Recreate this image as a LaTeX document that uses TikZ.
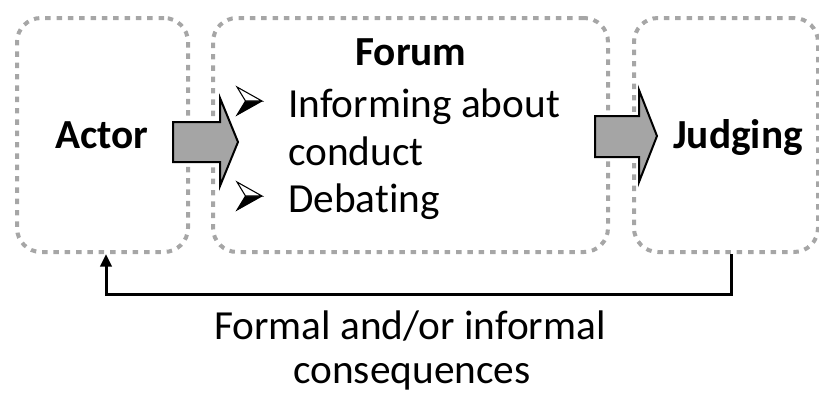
\documentclass[tikz,border=0pt]{standalone}
\usepackage{fontspec}
\setmainfont[Ligatures=NoCommon]{Carlito}
\usetikzlibrary{arrows.meta,calc}
\definecolor{dotgray}{HTML}{A6A6A6}
\definecolor{arrowgray}{HTML}{A5A5A5}
\begin{document}
\begin{tikzpicture}[x=0.75pt,y=-0.75pt,
  dotbox/.style={draw=dotgray, line width=3pt, dash pattern=on 4.1pt off 4.4pt, rounded corners=18pt, inner sep=0pt},
  blockarrow/.style={draw=black, line width=1.5pt, fill=arrowgray, line join=miter},
  lbl/.style={font=\fontsize{31}{37}\selectfont, inner sep=0pt, anchor=base},
  blbl/.style={inner sep=0pt, anchor=base, font=\fontsize{31}{37}\selectfont\bfseries},
  fb/.style={line width=2.25pt, -{Triangle[width=8.5pt,length=9.5pt]}},
  bul/.pic={
    \fill[black] (-4,0) -- (12.5,0) -- (-12.5,14) -- cycle;
    \draw[black, line width=0.8pt, fill=white, line join=miter] (-12.5,-14) -- (12.5,0) -- (-4,0) -- cycle;
    \draw[black, line width=0.8pt, line join=miter] (-4,0) -- (-12.5,14) -- (12.5,0);
  }]
\useasboundingbox (0,0) rectangle (819,397);
% boxes
\node[dotbox, minimum width=128.25pt, minimum height=175.5pt] (actor) at (102.5,135) {};
\node[dotbox, minimum width=296.25pt, minimum height=175.5pt] (forum) at (410.5,135) {};
\node[dotbox, minimum width=138pt, minimum height=175.5pt] (judging) at (726,135) {};
% labels
\node[blbl] (actorlbl) at (102,148) {Actor};
\node[blbl] (forumlbl) at (411,65) {Forum};
\node[blbl] (judginglbl) at (738,148) {Judging};
\node[lbl, anchor=base west] (b1a) at (288,117) {Informing about};
\node[lbl, anchor=base west] (b1b) at (288,165) {conduct};
\node[lbl, anchor=base west] (b2) at (288,212) {Debating};
\pic at (249.5,101) {bul};
\pic at (249.5,196) {bul};
% block arrows
\draw[blockarrow] (173,122) -- (220,122) -- (220,98) -- (238,142) -- (220,186) -- (220,162) -- (173,162) -- cycle;
\draw[blockarrow] (595,116) -- (639,116) -- (639,90) -- (657,136) -- (639,182) -- (639,157) -- (595,157) -- cycle;
% feedback
\coordinate (fbr) at (731,0);
\coordinate (fbl) at (106,0);
\coordinate (fbbottom) at (0,294);
\draw[fb, line join=miter] (judging.south -| fbr) -- (fbbottom -| fbr) -- (fbbottom -| fbl) -- (actor.south -| fbl);
\node[lbl] (cons1) at (410,339) {Formal and/or informal};
\node[lbl] (cons2) at (412,383) {consequences};
\end{tikzpicture}
\end{document}
